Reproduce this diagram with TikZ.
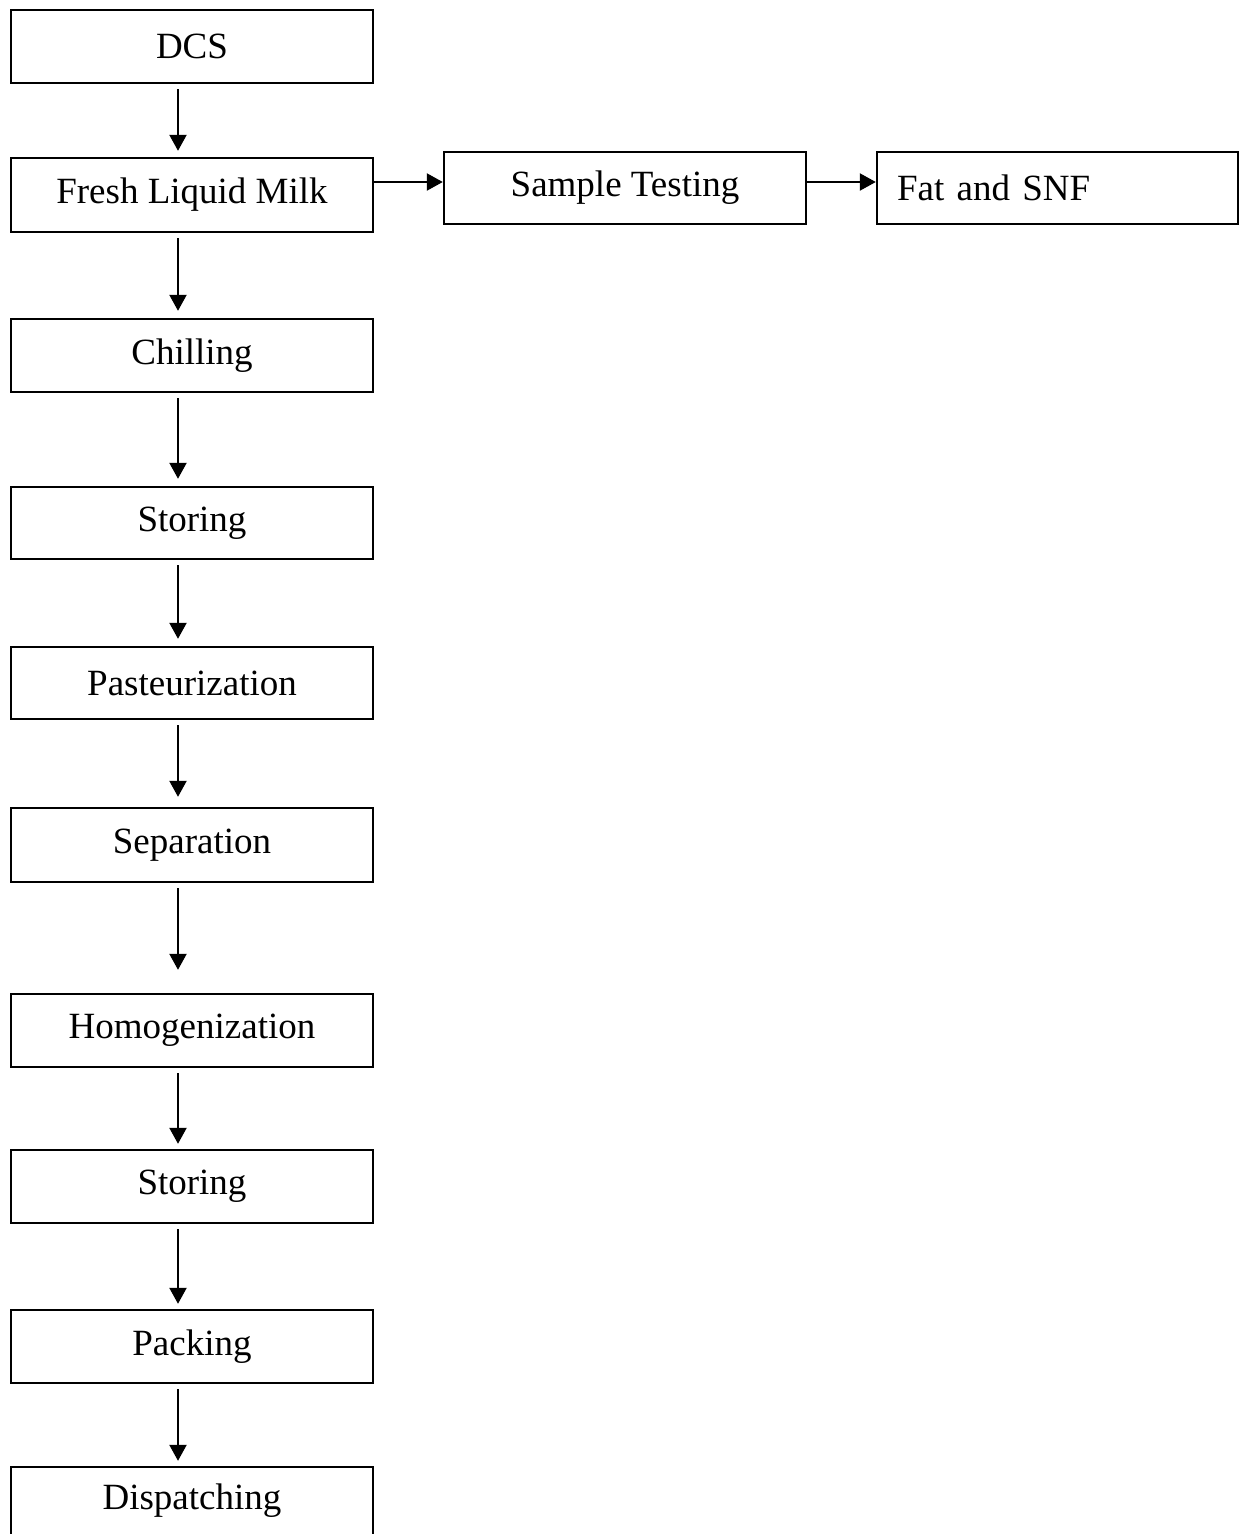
\documentclass[tikz,border=0pt]{standalone}
\usepackage{fontspec}
\setmainfont{Liberation Serif}
\usetikzlibrary{arrows.meta}
\begin{document}
\begin{tikzpicture}[x=1pt,y=-1pt,
  stepbox/.style={draw,line width=2.4pt,minimum width=362pt,inner sep=0pt,font=\fontsize{37}{40}\selectfont},
  flow/.style={line width=2.2pt,-{Triangle[width=17pt,length=16pt]}}]
\useasboundingbox (0,0) rectangle (1239,1534);
\clip (0,0) rectangle (1239,1534);
\fill[white] (0,0) rectangle (1239,1534);
\node[stepbox,minimum height=73pt] (dcs) at (192,46.5) {DCS};
\node[stepbox,minimum height=74pt] (milk) at (192,195) {Fresh Liquid Milk};
\node[stepbox,minimum height=72pt] (test) at (625,188) {Sample Testing};
\node[stepbox,minimum height=72pt,minimum width=361pt,text width=321pt,inner xsep=20pt,align=left] (fat) at (1057.5,188) {Fat and SNF};
\node[stepbox,minimum height=73pt] (chill) at (192,355.5) {Chilling};
\node[stepbox,minimum height=72pt] (store1) at (192,523) {Storing};
\node[stepbox,minimum height=72pt] (past) at (192,683) {Pasteurization};
\node[stepbox,minimum height=74pt] (sep) at (192,845) {Separation};
\node[stepbox,minimum height=73pt] (homog) at (192,1030.5) {Homogenization};
\node[stepbox,minimum height=73pt] (store2) at (192,1186.5) {Storing};
\node[stepbox,minimum height=73pt] (pack) at (192,1346.5) {Packing};
\node[stepbox,minimum height=80pt] (disp) at (192,1507) {};
\node[font=\fontsize{37}{40}\selectfont] (disptext) at (192,1501) {Dispatching};
\foreach \a/\b/\e in {dcs/milk/6,milk/chill/7,chill/store1/7,store1/past/7,past/sep/10,sep/homog/23,homog/store2/5,store2/pack/5,pack/disp/5}{
  \draw[flow,shorten <=5pt,shorten >=\e pt] ([xshift=-14pt]\a.south) -- ([xshift=-14pt]\b.north);
}
\draw[flow] ([yshift=13pt]milk.east) -- ([yshift=6pt]test.west);
\draw[flow] ([yshift=6pt]test.east) -- ([yshift=6pt]fat.west);
\end{tikzpicture}
\end{document}
